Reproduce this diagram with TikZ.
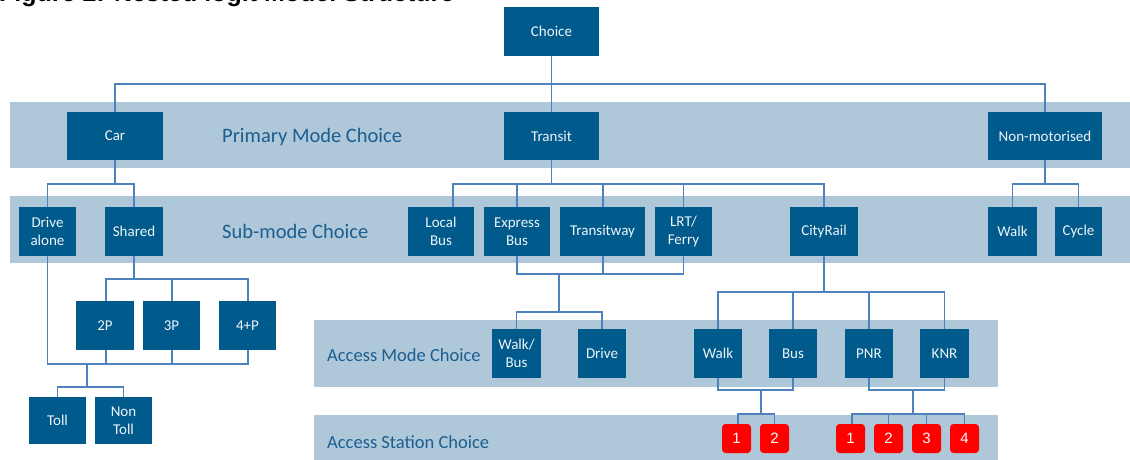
\documentclass[tikz,border=0pt]{standalone}
\usepackage{fontspec}
\setmainfont{Carlito}
\newfontfamily\arialfont{Liberation Sans}
\definecolor{bandblue}{HTML}{AEC8DA}
\definecolor{boxblue}{HTML}{005A8C}
\definecolor{lineblue}{HTML}{4F81BD}
\definecolor{labelblue}{HTML}{1B5E8F}
\definecolor{boxtext}{HTML}{EEF4F8}
\definecolor{redbox}{HTML}{FF0000}
\tikzset{
  band/.style={fill=bandblue, draw=none},
  box/.style={fill=boxblue, text=boxtext, inner sep=0pt, align=center,
    font=\fontsize{15}{18}\selectfont},
  rbox/.style={fill=redbox, text=white, rounded corners=3.5pt, inner sep=0pt,
    minimum width=29pt, minimum height=29pt, font=\arialfont\fontsize{15}{18}\selectfont},
  conn/.style={draw=lineblue, line width=1.4pt},
  bandlabel/.style={anchor=west, text=labelblue, inner sep=0pt},
}
\begin{document}
\begin{tikzpicture}[x=1pt, y=-1pt]
\useasboundingbox (0,0) rectangle (1130,460);
% title (clipped at top edge, as in the reference)
\node[anchor=base west, inner sep=0pt, font=\arialfont\bfseries\fontsize{25}{29}\selectfont] (title) at (-1,2) {Figure 2: Nested logit Model Structure};
% bands
\fill[band] (10,102) rectangle (1130,168);
\fill[band] (10,196) rectangle (1130,263);
\fill[band] (314,320) rectangle (998,387);
\fill[band] (314,415) rectangle (998,460);
% band labels
\node[bandlabel, font=\fontsize{20.5}{24}\selectfont] (lab1) at (222,137) {Primary Mode Choice};
\node[bandlabel, font=\fontsize{20.5}{24}\selectfont] (lab2) at (222,231) {Sub-mode Choice};
\node[bandlabel, font=\fontsize{18.5}{22}\selectfont] (lab3) at (327,355) {Access Mode Choice};
\node[bandlabel, font=\fontsize{18.5}{22}\selectfont] (lab4) at (327,442) {Access Station Choice};
% nodes
\node[box, minimum width=95pt, minimum height=49pt] (choice) at (551.5,31.5) {Choice};
\node[box, minimum width=96pt, minimum height=48pt] (car) at (115,136) {Car};
\node[box, minimum width=95pt, minimum height=48pt] (transit) at (551.5,136) {Transit};
\node[box, minimum width=114pt, minimum height=48pt] (nonmot) at (1045,136) {Non-motorised};
\node[box, minimum width=57pt, minimum height=49pt] (drivealone) at (47.5,231.5) {Drive\\alone};
\node[box, minimum width=58pt, minimum height=49pt] (shared) at (134,231.5) {Shared};
\node[box, minimum width=66pt, minimum height=49pt] (localbus) at (441,231.5) {Local\\Bus};
\node[box, minimum width=66pt, minimum height=49pt] (expressbus) at (517,231.5) {Express\\Bus};
\node[box, minimum width=85pt, minimum height=49pt] (transitway) at (602.5,231.5) {Transitway};
\node[box, minimum width=57pt, minimum height=49pt] (lrt) at (683.5,231.5) {LRT/\\Ferry};
\node[box, minimum width=68pt, minimum height=49pt] (cityrail) at (824,231.5) {CityRail};
\node[box, minimum width=49pt, minimum height=49pt] (walk) at (1012.5,231.5) {Walk};
\node[box, minimum width=47pt, minimum height=49pt] (cycle) at (1078.5,231.5) {Cycle};
\node[box, minimum width=58pt, minimum height=49pt] (p2) at (105,325.5) {2P};
\node[box, minimum width=57pt, minimum height=49pt] (p3) at (171.5,325.5) {3P};
\node[box, minimum width=57pt, minimum height=49pt] (p4) at (247.5,325.5) {4+P};
\node[box, minimum width=57pt, minimum height=47pt] (toll) at (57.5,420.5) {Toll};
\node[box, minimum width=57pt, minimum height=47pt] (nontoll) at (123.5,420.5) {Non\\Toll};
\node[box, minimum width=49pt, minimum height=49pt] (walkbus) at (516.5,353.5) {Walk/\\Bus};
\node[box, minimum width=48pt, minimum height=49pt] (drive) at (602,353.5) {Drive};
\node[box, minimum width=48pt, minimum height=49pt] (awalk) at (718,353.5) {Walk};
\node[box, minimum width=48pt, minimum height=49pt] (abus) at (793,353.5) {Bus};
\node[box, minimum width=48pt, minimum height=49pt] (pnr) at (869,353.5) {PNR};
\node[box, minimum width=49pt, minimum height=49pt] (knr) at (944.5,353.5) {KNR};
\node[rbox] (ra1) at (736.5,438.5) {1};
\node[rbox] (ra2) at (774.5,438.5) {2};
\node[rbox] (rb1) at (850.5,438.5) {1};
\node[rbox] (rb2) at (888.5,438.5) {2};
\node[rbox] (rb3) at (926.5,438.5) {3};
\node[rbox] (rb4) at (964.5,438.5) {4};
% connectors: level 1
\draw[conn] (car.north) |- (nonmot.north |- 0,84) -- (nonmot.north);
\draw[conn] (choice.south) -- (transit.north);
% car
\draw[conn] (drivealone.north) |- (shared.north |- 0,184) -- (shared.north);
\draw[conn] (car.south) -- (car.south |- 0,184);
% transit
\draw[conn] ([xshift=12pt]localbus.north) |- (cityrail.north |- 0,184) -- (cityrail.north);
\draw[conn] (transit.south) -- (transit.south |- 0,184);
\draw[conn] (expressbus.north) -- (expressbus.north |- 0,184);
\draw[conn] ([xshift=0.5pt]transitway.north) -- ([xshift=0.5pt]transitway.north |- 0,184);
\draw[conn] (lrt.north) -- (lrt.north |- 0,184);
% non-motorised
\draw[conn] (walk.north) |- (cycle.north |- 0,184) -- (cycle.north);
\draw[conn] (nonmot.south) -- (nonmot.south |- 0,184);
% shared
\draw[conn] ([xshift=1pt]p2.north) |- ([xshift=0.5pt]p4.north |- 0,279) -- ([xshift=0.5pt]p4.north);
\draw[conn] (shared.south) -- (shared.south |- 0,279);
\draw[conn] ([xshift=0.5pt]p3.north) -- ([xshift=0.5pt]p3.north |- 0,279);
% toll level
\draw[conn] (drivealone.south) |- ([xshift=0.5pt]p4.south |- 0,364) -- ([xshift=0.5pt]p4.south);
\draw[conn] ([xshift=1pt]p2.south) -- ([xshift=1pt]p2.south |- 0,364);
\draw[conn] ([xshift=0.5pt]p3.south) -- ([xshift=0.5pt]p3.south |- 0,364);
\draw[conn] (toll.north) |- (nontoll.north |- 0,387) -- (nontoll.north);
\coordinate (tollfork) at (87,364);
\draw[conn] (tollfork) -- (tollfork |- 0,387);
% bus-based transit access
\draw[conn] (expressbus.south) |- (lrt.south |- 0,274) -- (lrt.south);
\draw[conn] ([xshift=0.5pt]transitway.south) -- ([xshift=0.5pt]transitway.south |- 0,274);
\coordinate (busfork) at (559,274);
\draw[conn] (busfork) -- (busfork |- 0,312);
\draw[conn] (walkbus.north) |- (drive.north |- 0,312) -- (drive.north);
% cityrail access
\draw[conn] (awalk.north) |- (knr.north |- 0,292) -- (knr.north);
\draw[conn] (cityrail.south) -- (cityrail.south |- 0,292);
\draw[conn] (abus.north) -- (abus.north |- 0,292);
\draw[conn] (pnr.north) -- (pnr.north |- 0,292);
% stations
\draw[conn] (awalk.south) |- (abus.south |- 0,390) -- (abus.south);
\coordinate (stafork) at (761,390);
\draw[conn] (stafork) -- (stafork |- 0,414);
\draw[conn] ([xshift=1.5pt]ra1.north) |- (ra2.north |- 0,414) -- (ra2.north);
\draw[conn] (pnr.south) |- (knr.south |- 0,390) -- (knr.south);
\coordinate (stbfork) at (913,390);
\draw[conn] (stbfork) -- (stbfork |- 0,414);
\draw[conn] ([xshift=1.5pt]rb1.north) |- (rb4.north |- 0,414) -- (rb4.north);
\draw[conn] (rb2.north) -- (rb2.north |- 0,414);
\draw[conn] (rb3.north) -- (rb3.north |- 0,414);
\end{tikzpicture}
\end{document}
